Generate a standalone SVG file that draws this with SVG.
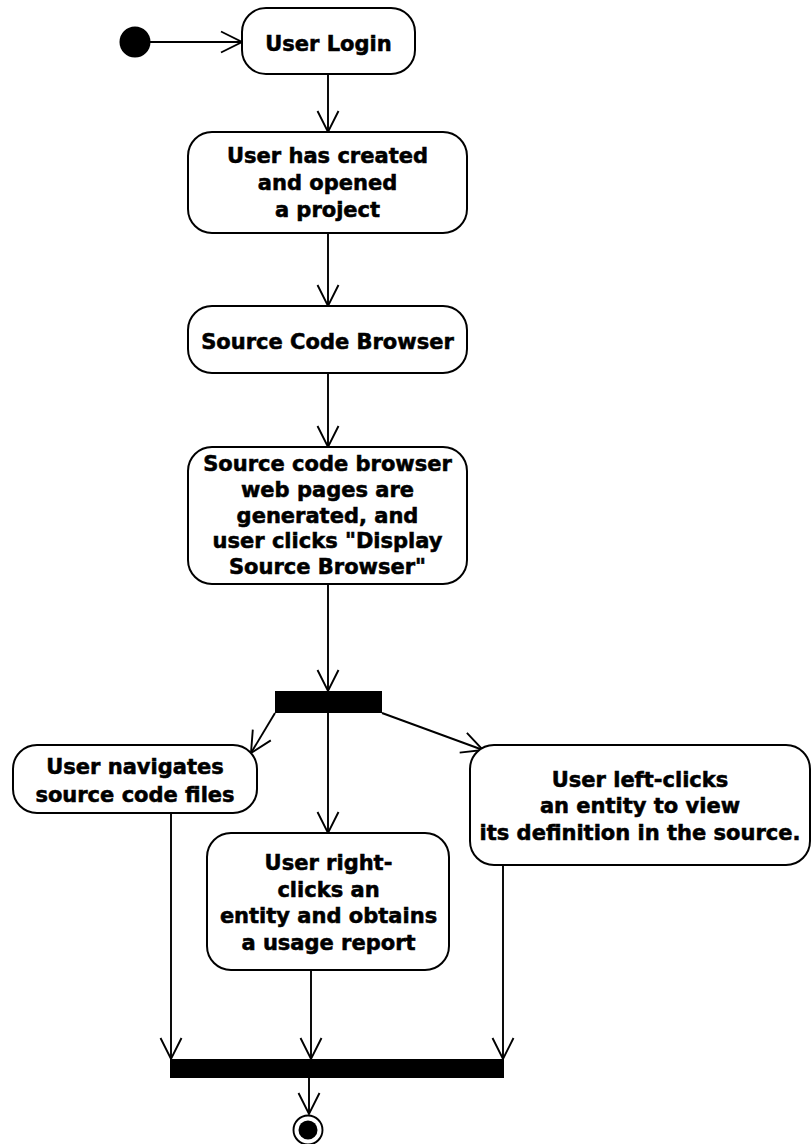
<svg xmlns="http://www.w3.org/2000/svg" width="811" height="1144" viewBox="0 0 811 1144">
  <style>
    .act { fill: #ffffff; stroke: #000000; stroke-width: 2; }
    .bar { fill: #000000; stroke: none; }
    .lbl { font-family: "DejaVu Sans", Verdana, sans-serif; font-weight: bold; font-size: 21px; fill: #000000; stroke: #000000; stroke-width: 0.55; text-anchor: middle; }
    .flow { fill: none; stroke: #000000; stroke-width: 1.9; marker-end: url(#open); }
  </style>
  <defs>
    <marker id="open" markerUnits="userSpaceOnUse" viewBox="0 0 24 24" refX="22" refY="12" markerWidth="24" markerHeight="24" orient="auto" overflow="visible">
      <path d="M1,1.5 L22,12 L1,22.5" fill="none" stroke="#000000" stroke-width="1.9"/>
    </marker>
  </defs>
  <rect width="811" height="1144" fill="#ffffff"/>

  <!-- connectors -->
  <g id="connectors">
    <path class="flow" d="M150,42 L242,42"/>
    <path class="flow" d="M328,74 L328,132"/>
    <path class="flow" d="M328,233 L328,306"/>
    <path class="flow" d="M328,373 L328,447"/>
    <path class="flow" d="M328,584 L328,691"/>
    <path class="flow" d="M275,713 L251,753"/>
    <path class="flow" d="M328,713 L328,833"/>
    <path class="flow" d="M382,713 L483,750"/>
    <path class="flow" d="M171,813 L171,1059"/>
    <path class="flow" d="M311,970 L311,1059"/>
    <path class="flow" d="M503,865 L503,1059"/>
    <path class="flow" d="M309,1078 L309,1114"/>
  </g>

  <!-- initial node -->
  <g id="start">
    <circle cx="135" cy="42" r="15.5" fill="#000000"/>
  </g>

  <g id="login">
    <rect class="act" x="242" y="8" width="173" height="66" rx="24"/>
    <text class="lbl" x="328.5" y="51">User Login</text>
  </g>

  <g id="project">
    <rect class="act" x="188" y="132" width="279" height="101" rx="24"/>
    <text class="lbl" x="327.5" y="163">User has created</text>
    <text class="lbl" x="327.5" y="190">and opened</text>
    <text class="lbl" x="327.5" y="216.5">a project</text>
  </g>

  <g id="browser">
    <rect class="act" x="188" y="306" width="279" height="67" rx="24"/>
    <text class="lbl" x="327.5" y="349">Source Code Browser</text>
  </g>

  <g id="generated">
    <rect class="act" x="188" y="447" width="279" height="137" rx="24"/>
    <text class="lbl" x="327.5" y="470.5">Source code browser</text>
    <text class="lbl" x="327.5" y="496.5">web pages are</text>
    <text class="lbl" x="327.5" y="522.5">generated, and</text>
    <text class="lbl" x="327.5" y="548">user clicks "Display</text>
    <text class="lbl" x="327.5" y="574">Source Browser"</text>
  </g>

  <!-- fork -->
  <g id="fork">
    <rect class="bar" x="275" y="691" width="107" height="22"/>
  </g>

  <g id="navigate">
    <rect class="act" x="13" y="745" width="244" height="68" rx="24"/>
    <text class="lbl" x="135" y="774">User navigates</text>
    <text class="lbl" x="135" y="801.5">source code files</text>
  </g>

  <g id="usage">
    <rect class="act" x="207" y="833" width="242" height="137" rx="24"/>
    <text class="lbl" x="328.5" y="870">User right-</text>
    <text class="lbl" x="328.5" y="896.5">clicks an</text>
    <text class="lbl" x="328.5" y="923">entity and obtains</text>
    <text class="lbl" x="328.5" y="950">a usage report</text>
  </g>

  <g id="definition">
    <rect class="act" x="470" y="745" width="340" height="120" rx="24"/>
    <text class="lbl" x="640" y="786.5">User left-clicks</text>
    <text class="lbl" x="640" y="813">an entity to view</text>
    <text class="lbl" x="640" y="840">its definition in the source.</text>
  </g>

  <!-- join -->
  <g id="join">
    <rect class="bar" x="170" y="1059" width="334" height="19"/>
  </g>

  <!-- final node -->
  <g id="end">
    <circle cx="308" cy="1130" r="14.5" fill="#ffffff" stroke="#000000" stroke-width="1.9"/>
    <circle cx="308" cy="1130" r="9.5" fill="#000000"/>
  </g>
</svg>
